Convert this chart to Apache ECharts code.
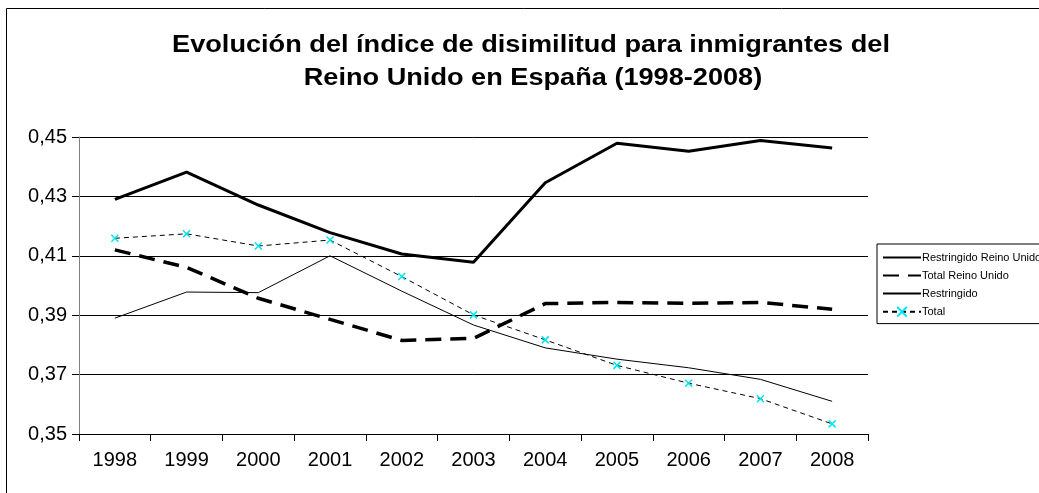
<!DOCTYPE html>
<html>
<head>
<meta charset="utf-8">
<script src="https://cdn.jsdelivr.net/npm/echarts@6/dist/echarts.min.js"></script>
<style>
html,body{margin:0;padding:0;background:#fff;}
#c{width:1039px;height:493px;}
</style>
</head>
<body>
<div id="c"></div>
<script>
const titleLines = ['Evolución del índice de disimilitud para inmigrantes del', 'Reino Unido en España (1998-2008)'];
const years = ['1998','1999','2000','2001','2002','2003','2004','2005','2006','2007','2008'];
const seriesNames = ['Restringido Reino Unido','Total Reino Unido','Restringido','Total'];
const restringidoRU = [0.4290,0.4382,0.4271,0.4178,0.4106,0.4078,0.4346,0.4479,0.4452,0.4488,0.4463];
const totalRU = [0.4120,0.4061,0.3957,0.3886,0.3815,0.3822,0.3939,0.3943,0.3940,0.3943,0.3920];
const restringido = [0.3890,0.3978,0.3976,0.4100,0.3981,0.3867,0.3790,0.3752,0.3723,0.3684,0.3610];
const total = [0.4159,0.4174,0.4133,0.4153,0.4030,0.3901,0.3817,0.3731,0.3671,0.3619,0.3534];

const FONT = '"Liberation Sans", Arial, sans-serif';
const chart = echarts.init(document.getElementById('c'), null, {renderer:'canvas'});
const xPath = 'path://M0,0L10,10M0,10L10,0';
const titleStyle = {fontFamily:FONT, fontWeight:'bold', fontSize:23, fill:'#000', textAlign:'center', textVerticalAlign:'middle'};
chart.setOption({
  animation:false,
  backgroundColor:'#fff',
  graphic:[
    {type:'rect', shape:{x:6.5,y:8.5,width:1100,height:600}, style:{fill:'none',stroke:'#000',lineWidth:1}, silent:true, z:-1},
    {type:'text', x:531, y:46, scaleX:1.18, style:Object.assign({text:titleLines[0]}, titleStyle), silent:true},
    {type:'text', x:533, y:79, scaleX:1.18, style:Object.assign({text:titleLines[1]}, titleStyle), silent:true}
  ],
  legend:{orient:'vertical', left:877, top:244,
    data:[
      {name:seriesNames[0], itemStyle:{opacity:0}},
      {name:seriesNames[1], itemStyle:{opacity:0}},
      {name:seriesNames[2], itemStyle:{opacity:0}},
      {name:seriesNames[3]}
    ],
    borderColor:'#000', borderWidth:1, padding:[8,5,6,5], itemWidth:38, itemHeight:12, itemGap:7,
    textStyle:{fontFamily:FONT, fontSize:11, color:'#000', padding:[0,0,0,-4]}},
  grid:{left:79, right:171, top:137, bottom:59, containLabel:false},
  xAxis:{type:'category', data:years, boundaryGap:true,
    axisLine:{lineStyle:{color:'#000',width:1}},
    axisTick:{show:true, length:7, lineStyle:{color:'#000'}},
    axisLabel:{fontFamily:FONT, fontSize:20, color:'#000', margin:16}},
  yAxis:{type:'value', min:0.35, max:0.45, interval:0.02,
    axisLine:{show:true, lineStyle:{color:'#808080',width:1}},
    axisTick:{show:true, length:7, lineStyle:{color:'#000'}},
    splitLine:{lineStyle:{color:'#000',width:1}},
    axisLabel:{fontFamily:FONT, fontSize:20, color:'#000', margin:12,
      formatter:v=>v.toFixed(2).replace('.',',')}},
  series:[
    {name:seriesNames[0], type:'line', data:restringidoRU, symbol:'none',
     lineStyle:{color:'#000', width:3}, itemStyle:{color:'#000'}},
    {name:seriesNames[1], type:'line', data:totalRU, symbol:'none',
     lineStyle:{color:'#000', width:3.5, type:[16,9]}, itemStyle:{color:'#000'}},
    {name:seriesNames[2], type:'line', data:restringido, symbol:'none',
     lineStyle:{color:'#000', width:1}, itemStyle:{color:'#000'}},
    {name:seriesNames[3], type:'line', data:total, symbol:xPath, symbolSize:7,
     lineStyle:{color:'#000', width:1, type:[5,4]},
     itemStyle:{color:'rgba(0,0,0,0)', borderColor:'#00e5ee', borderWidth:1.5}}
  ]
});
</script>
</body>
</html>
